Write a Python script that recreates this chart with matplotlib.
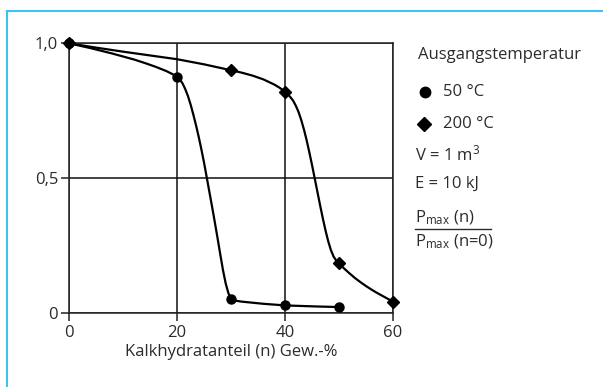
import matplotlib
matplotlib.use("Agg")
import matplotlib.pyplot as plt
from matplotlib.lines import Line2D

plt.rcParams['font.family'] = ['Open Sans', 'DejaVu Sans']
plt.rcParams['mathtext.fontset'] = 'custom'
plt.rcParams['mathtext.rm'] = 'Open Sans'
plt.rcParams['mathtext.it'] = 'Open Sans'

# Messpunkte (Marker)
n_50 = [0, 20, 30, 40, 50]
p_50 = [1.0, 0.876, 0.052, 0.027, 0.021]
n_200 = [0, 30, 40, 50, 60]
p_200 = [1.0, 0.900, 0.820, 0.183, 0.041]

# Kurvenverlauf
curve_n_50 = [0, 2, 4, 6, 8, 10, 12, 14, 16, 18, 19, 20, 20.5, 21, 21.5, 22, 22.5, 23, 23.5,
              24, 24.5, 25, 25.5, 26, 26.5, 27, 27.5, 28, 28.5, 29, 29.5, 30, 30.5, 31, 32,
              34, 36, 38, 40, 43, 46, 50]
curve_p_50 = [1.0, 0.991, 0.982, 0.972, 0.962, 0.951, 0.940, 0.927, 0.913, 0.897, 0.887, 0.876,
              0.866, 0.851, 0.830, 0.804, 0.772, 0.735, 0.695, 0.652, 0.605, 0.555, 0.500,
              0.445, 0.390, 0.333, 0.275, 0.215, 0.157, 0.108, 0.072, 0.052, 0.047, 0.044,
              0.041, 0.037, 0.033, 0.030, 0.027, 0.025, 0.023, 0.021]
curve_n_200 = [0, 5, 10, 15, 20, 25, 30, 32, 34, 36, 38, 39, 40, 40.5, 41, 41.5, 42, 42.5, 43,
               43.5, 44, 44.5, 45, 45.5, 46, 46.5, 47, 47.5, 48, 48.5, 49, 49.5, 50, 50.5, 51,
               52, 53, 54, 55, 56, 57, 58, 59, 60]
curve_p_200 = [1.0, 0.984, 0.969, 0.955, 0.941, 0.922, 0.900, 0.891, 0.880, 0.866, 0.847, 0.835,
               0.820, 0.811, 0.800, 0.787, 0.768, 0.745, 0.715, 0.680, 0.640, 0.595, 0.548,
               0.498, 0.448, 0.398, 0.350, 0.305, 0.265, 0.232, 0.208, 0.193, 0.183, 0.173,
               0.163, 0.145, 0.128, 0.113, 0.099, 0.086, 0.074, 0.063, 0.052, 0.041]

x_ticks = [0, 20, 40, 60]
x_ticklabels = ['0', '20', '40', '60']
y_ticks = [0, 0.5, 1.0]
y_ticklabels = ['0', '0,5', '1,0']

txt = '#2b2b2b'
blue = '#3cc3f0'
fs = 12

fig = plt.figure(figsize=(6.03, 3.87), dpi=100)
ax = fig.add_axes([0.1149, 0.192, 0.5368, 0.696])

ax.plot(curve_n_50, curve_p_50, color='black', lw=1.6, clip_on=False)
ax.plot(curve_n_200, curve_p_200, color='black', lw=1.6, clip_on=False)
ax.plot(n_50, p_50, 'o', color='black', ms=6.5, clip_on=False, zorder=5)
ax.plot(n_200, p_200, 'D', color='black', ms=6.5, clip_on=False, zorder=5)

ax.set_xlim(0, 60)
ax.set_ylim(0, 1)
ax.set_xticks(x_ticks, x_ticklabels)
ax.set_yticks(y_ticks, y_ticklabels)
ax.tick_params(length=6, width=1.1, labelsize=fs, labelcolor=txt, color='#222')
ax.tick_params(axis='x', pad=3)
ax.tick_params(axis='y', pad=2)
ax.grid(True, color='#111', lw=1.1)
for s in ax.spines.values():
    s.set_linewidth(1.1)
    s.set_color('#222')
ax.set_xlabel('Kalkhydratanteil (n) Gew.-%', fontsize=fs, color=txt, labelpad=2)

# Legende rechts
fig.text(418/603, 1 - 55/387, 'Ausgangstemperatur', fontsize=fs, color=txt, va='center')
fig.add_artist(Line2D([425/603], [1 - 92/387], marker='o', ms=7.5, color='black'))
fig.text(443/603, 1 - 92/387, '50 °C', fontsize=fs, color=txt, va='center')
fig.add_artist(Line2D([424/603], [1 - 124/387], marker='D', ms=7.5, color='black'))
fig.text(443/603, 1 - 124/387, '200 °C', fontsize=fs, color=txt, va='center')
fig.text(415/603, 1 - 154/387, 'V = 1 m$^3$', fontsize=fs, color=txt, va='center')
fig.text(415/603, 1 - 184/387, 'E = 10 kJ', fontsize=fs, color=txt, va='center')
fig.text(415/603, 1 - 218/387, 'P$_{\\mathrm{max}}$ (n)', fontsize=fs, color=txt, va='center')
fig.add_artist(Line2D([415/603, 491/603], [1 - 229/387, 1 - 229/387], color=txt, lw=1))
fig.text(415/603, 1 - 242/387, 'P$_{\\mathrm{max}}$ (n=0)', fontsize=fs, color=txt, va='center')

# blauer Rahmen oben und links
fig.add_artist(Line2D([6.5/603, 6.5/603], [0, 1 - 10.5/387], color=blue, lw=1.5))
fig.add_artist(Line2D([6.5/603, 1], [1 - 10.5/387, 1 - 10.5/387], color=blue, lw=1.5))

fig.savefig('out.png', dpi=100)
